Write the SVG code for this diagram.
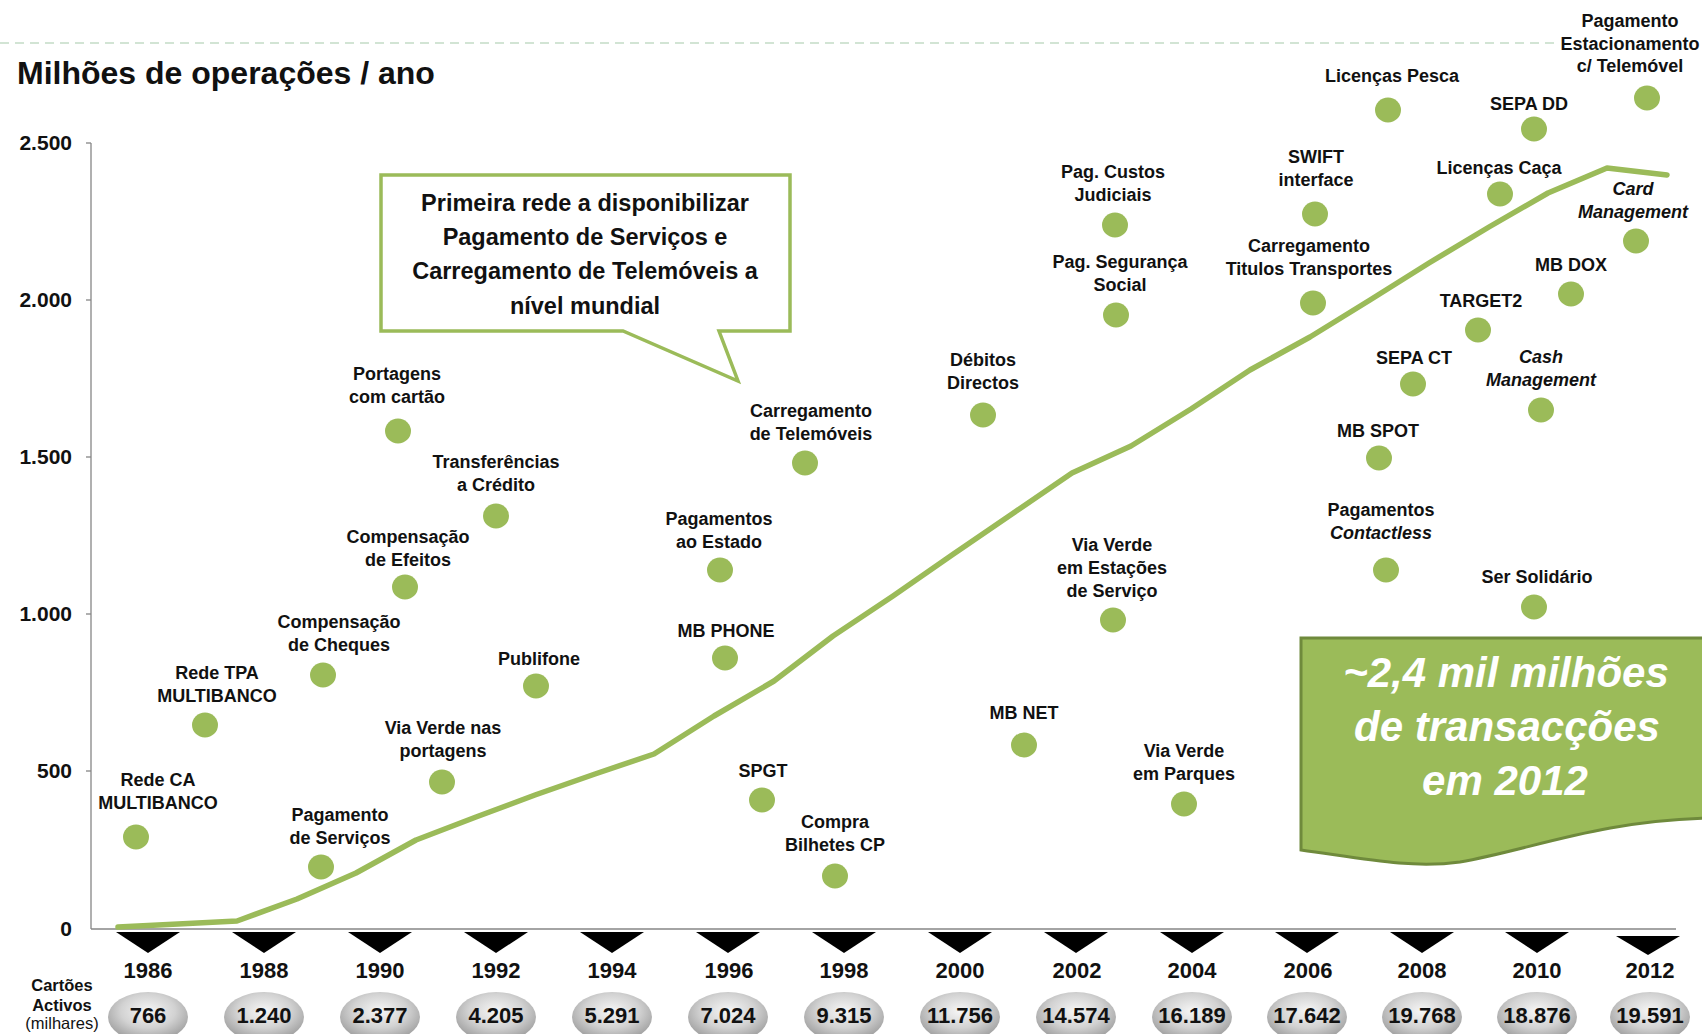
<svg xmlns="http://www.w3.org/2000/svg" width="1702" height="1034" viewBox="0 0 1702 1034">
<defs>
<radialGradient id="ball" cx="50%" cy="38%" r="62%">
<stop offset="0%" stop-color="#f6f6f6"/>
<stop offset="55%" stop-color="#d2d2d2"/>
<stop offset="100%" stop-color="#9c9c9c"/>
</radialGradient>
</defs>
<style>
text{font-family:"Liberation Sans",Arial,sans-serif;fill:#111}
.lb{font-size:18px;font-weight:bold;text-anchor:middle}
.it{font-style:italic}
.dot{fill:#9bbb59}
.ax{font-size:21px;font-weight:bold;text-anchor:end}
.yr{font-size:22px;font-weight:bold;text-anchor:middle}
.num{font-size:22px;font-weight:bold;text-anchor:middle}
.tri{fill:#000}
.ball{fill:url(#ball)}
.co{font-size:23.5px;font-weight:bold;text-anchor:middle}
.big{font-size:42px;font-weight:bold;font-style:italic;text-anchor:middle;fill:#fff}
</style>
<rect width="1702" height="1034" fill="#fff"/>
<line x1="0" y1="43" x2="1557" y2="43" stroke="#c4dcc6" stroke-width="1.6" stroke-dasharray="9,6"/>
<text x="17" y="84" style="font-size:32px;font-weight:bold">Milhões de operações / ano</text>

<g id="axes" stroke="#868686" stroke-width="1.3">
<line x1="91" y1="143" x2="91" y2="929"/>
<line x1="91" y1="929" x2="1676" y2="929"/>
<line x1="86" y1="143" x2="91" y2="143"/>
<line x1="86" y1="300" x2="91" y2="300"/>
<line x1="86" y1="457" x2="91" y2="457"/>
<line x1="86" y1="614" x2="91" y2="614"/>
<line x1="86" y1="771" x2="91" y2="771"/>
</g>
<g id="axis-labels">
<text class="ax" x="72" y="150">2.500</text>
<text class="ax" x="72" y="307">2.000</text>
<text class="ax" x="72" y="464">1.500</text>
<text class="ax" x="72" y="621">1.000</text>
<text class="ax" x="72" y="778">500</text>
<text class="ax" x="72" y="936">0</text>
</g>

<g id="connectors">
<polyline fill="none" stroke="#9bbb59" stroke-width="5.5" stroke-linejoin="round" stroke-linecap="round" points="118,927 178,924 237,921 297,899 356,873 416,840 476,817 535,795 595,774 654,754 714,716 774,681 833,636 893,596 952,555 1012,514 1072,473 1131,446 1191,409 1250,370 1310,337 1370,300 1429,263 1489,227 1548,193 1607,168 1667,175"/>
</g>

<g id="callout">
<path d="M381,175 H790 V331 H719 L738,381 L623,331 H381 Z" fill="#fff" stroke="#9bbb59" stroke-width="3.5" stroke-linejoin="miter"/>
<text class="co" x="585" y="211">Primeira rede a disponibilizar</text>
<text class="co" x="585" y="245">Pagamento de Serviços e</text>
<text class="co" x="585" y="279">Carregamento de Telemóveis a</text>
<text class="co" x="585" y="314">nível mundial</text>
</g>

<g id="summary">
<path d="M1301,638 H1712 V818 C1600,820 1530,850 1460,862 C1410,869 1360,858 1301,850 Z" fill="#9bbb59" stroke="#6f8a3c" stroke-width="3"/>
<text class="big" x="1506" y="687">~2,4 mil milhões</text>
<text class="big" x="1507" y="741">de transacções</text>
<text class="big" x="1505" y="795">em 2012</text>
</g>

<g id="n1"><text class="lb" x="158" y="786">Rede CA</text><text class="lb" x="158" y="809">MULTIBANCO</text><ellipse class="dot" cx="136" cy="837" rx="13" ry="12.5"/></g>
<g id="n2"><text class="lb" x="217" y="679">Rede TPA</text><text class="lb" x="217" y="702">MULTIBANCO</text><ellipse class="dot" cx="205" cy="725" rx="13" ry="12.5"/></g>
<g id="n3"><text class="lb" x="339" y="628">Compensação</text><text class="lb" x="339" y="651">de Cheques</text><ellipse class="dot" cx="323" cy="675" rx="13" ry="12.5"/></g>
<g id="n4"><text class="lb" x="340" y="821">Pagamento</text><text class="lb" x="340" y="844">de Serviços</text><ellipse class="dot" cx="321" cy="867" rx="13" ry="12.5"/></g>
<g id="n5"><text class="lb" x="408" y="543">Compensação</text><text class="lb" x="408" y="566">de Efeitos</text><ellipse class="dot" cx="405" cy="587" rx="13" ry="12.5"/></g>
<g id="n6"><text class="lb" x="397" y="380">Portagens</text><text class="lb" x="397" y="403">com cartão</text><ellipse class="dot" cx="398" cy="431" rx="13" ry="12.5"/></g>
<g id="n7"><text class="lb" x="496" y="468">Transferências</text><text class="lb" x="496" y="491">a Crédito</text><ellipse class="dot" cx="496" cy="516" rx="13" ry="12.5"/></g>
<g id="n8"><text class="lb" x="443" y="734">Via Verde nas</text><text class="lb" x="443" y="757">portagens</text><ellipse class="dot" cx="442" cy="782" rx="13" ry="12.5"/></g>
<g id="n9"><text class="lb" x="539" y="665">Publifone</text><ellipse class="dot" cx="536" cy="686" rx="13" ry="12.5"/></g>
<g id="n10"><text class="lb" x="719" y="525">Pagamentos</text><text class="lb" x="719" y="548">ao Estado</text><ellipse class="dot" cx="720" cy="570" rx="13" ry="12.5"/></g>
<g id="n11"><text class="lb" x="726" y="637">MB PHONE</text><ellipse class="dot" cx="725" cy="658" rx="13" ry="12.5"/></g>
<g id="n12"><text class="lb" x="811" y="417">Carregamento</text><text class="lb" x="811" y="440">de Telemóveis</text><ellipse class="dot" cx="805" cy="463" rx="13" ry="12.5"/></g>
<g id="n13"><text class="lb" x="763" y="777">SPGT</text><ellipse class="dot" cx="762" cy="800" rx="13" ry="12.5"/></g>
<g id="n14"><text class="lb" x="835" y="828">Compra</text><text class="lb" x="835" y="851">Bilhetes CP</text><ellipse class="dot" cx="835" cy="876" rx="13" ry="12.5"/></g>
<g id="n15"><text class="lb" x="983" y="366">Débitos</text><text class="lb" x="983" y="389">Directos</text><ellipse class="dot" cx="983" cy="415" rx="13" ry="12.5"/></g>
<g id="n16"><text class="lb" x="1024" y="719">MB NET</text><ellipse class="dot" cx="1024" cy="745" rx="13" ry="12.5"/></g>
<g id="n17"><text class="lb" x="1112" y="551">Via Verde</text><text class="lb" x="1112" y="574">em Estações</text><text class="lb" x="1112" y="597">de Serviço</text><ellipse class="dot" cx="1113" cy="620" rx="13" ry="12.5"/></g>
<g id="n18"><text class="lb" x="1184" y="757">Via Verde</text><text class="lb" x="1184" y="780">em Parques</text><ellipse class="dot" cx="1184" cy="804" rx="13" ry="12.5"/></g>
<g id="n19"><text class="lb" x="1113" y="178">Pag. Custos</text><text class="lb" x="1113" y="201">Judiciais</text><ellipse class="dot" cx="1115" cy="225" rx="13" ry="12.5"/></g>
<g id="n20"><text class="lb" x="1120" y="268">Pag. Segurança</text><text class="lb" x="1120" y="291">Social</text><ellipse class="dot" cx="1116" cy="315" rx="13" ry="12.5"/></g>
<g id="n21"><text class="lb" x="1316" y="163">SWIFT</text><text class="lb" x="1316" y="186">interface</text><ellipse class="dot" cx="1315" cy="214" rx="13" ry="12.5"/></g>
<g id="n22"><text class="lb" x="1309" y="252">Carregamento</text><text class="lb" x="1309" y="275">Titulos Transportes</text><ellipse class="dot" cx="1313" cy="303" rx="13" ry="12.5"/></g>
<g id="n23"><text class="lb" x="1392" y="82">Licenças Pesca</text><ellipse class="dot" cx="1388" cy="110" rx="13" ry="12.5"/></g>
<g id="n24"><text class="lb" x="1529" y="110">SEPA DD</text><ellipse class="dot" cx="1534" cy="129" rx="13" ry="12.5"/></g>
<g id="n25"><text class="lb" x="1630" y="27">Pagamento</text><text class="lb" x="1630" y="50">Estacionamento</text><text class="lb" x="1630" y="72">c/ Telemóvel</text><ellipse class="dot" cx="1647" cy="98" rx="13" ry="12.5"/></g>
<g id="n26"><text class="lb" x="1499" y="174">Licenças Caça</text><ellipse class="dot" cx="1500" cy="194" rx="13" ry="12.5"/></g>
<g id="n27"><text class="lb it" x="1633" y="195">Card</text><text class="lb it" x="1633" y="218">Management</text><ellipse class="dot" cx="1636" cy="241" rx="13" ry="12.5"/></g>
<g id="n28"><text class="lb" x="1571" y="271">MB DOX</text><ellipse class="dot" cx="1571" cy="294" rx="13" ry="12.5"/></g>
<g id="n29"><text class="lb" x="1481" y="307">TARGET2</text><ellipse class="dot" cx="1478" cy="330" rx="13" ry="12.5"/></g>
<g id="n30"><text class="lb" x="1414" y="364">SEPA CT</text><ellipse class="dot" cx="1413" cy="384" rx="13" ry="12.5"/></g>
<g id="n31"><text class="lb it" x="1541" y="363">Cash</text><text class="lb it" x="1541" y="386">Management</text><ellipse class="dot" cx="1541" cy="410" rx="13" ry="12.5"/></g>
<g id="n32"><text class="lb" x="1378" y="437">MB SPOT</text><ellipse class="dot" cx="1379" cy="458" rx="13" ry="12.5"/></g>
<g id="n33"><text class="lb" x="1381" y="516">Pagamentos</text><text class="lb it" x="1381" y="539">Contactless</text><ellipse class="dot" cx="1386" cy="570" rx="13" ry="12.5"/></g>
<g id="n34"><text class="lb" x="1537" y="583">Ser Solidário</text><ellipse class="dot" cx="1534" cy="607" rx="13" ry="12.5"/></g>

<g id="years">
<polygon class="tri" points="116,932 180,932 148,953"/>
<polygon class="tri" points="232,932 296,932 264,953"/>
<polygon class="tri" points="348,932 412,932 380,953"/>
<polygon class="tri" points="464,932 528,932 496,953"/>
<polygon class="tri" points="580,932 644,932 612,953"/>
<polygon class="tri" points="696,932 760,932 728,953"/>
<polygon class="tri" points="812,932 876,932 844,953"/>
<polygon class="tri" points="928,932 992,932 960,953"/>
<polygon class="tri" points="1044,932 1108,932 1076,953"/>
<polygon class="tri" points="1160,932 1224,932 1192,953"/>
<polygon class="tri" points="1275,932 1339,932 1307,953"/>
<polygon class="tri" points="1390,932 1454,932 1422,953"/>
<polygon class="tri" points="1505,932 1569,932 1537,953"/>
<polygon class="tri" points="1616,936 1680,936 1648,955"/>
<text class="yr" x="148" y="978">1986</text>
<text class="yr" x="264" y="978">1988</text>
<text class="yr" x="380" y="978">1990</text>
<text class="yr" x="496" y="978">1992</text>
<text class="yr" x="612" y="978">1994</text>
<text class="yr" x="729" y="978">1996</text>
<text class="yr" x="844" y="978">1998</text>
<text class="yr" x="960" y="978">2000</text>
<text class="yr" x="1077" y="978">2002</text>
<text class="yr" x="1192" y="978">2004</text>
<text class="yr" x="1308" y="978">2006</text>
<text class="yr" x="1422" y="978">2008</text>
<text class="yr" x="1537" y="978">2010</text>
<text class="yr" x="1650" y="978">2012</text>
</g>

<g id="cards">
<text x="62" y="991" style="font-size:16.5px;font-weight:bold;text-anchor:middle">Cartões</text>
<text x="62" y="1011" style="font-size:16.5px;font-weight:bold;text-anchor:middle">Activos</text>
<text x="62" y="1029" style="font-size:16.5px;text-anchor:middle">(milhares)</text>
<ellipse class="ball" cx="148" cy="1017" rx="40" ry="25"/>
<ellipse class="ball" cx="264" cy="1017" rx="40" ry="25"/>
<ellipse class="ball" cx="380" cy="1017" rx="40" ry="25"/>
<ellipse class="ball" cx="496" cy="1017" rx="40" ry="25"/>
<ellipse class="ball" cx="612" cy="1017" rx="40" ry="25"/>
<ellipse class="ball" cx="728" cy="1017" rx="40" ry="25"/>
<ellipse class="ball" cx="844" cy="1017" rx="40" ry="25"/>
<ellipse class="ball" cx="960" cy="1017" rx="40" ry="25"/>
<ellipse class="ball" cx="1076" cy="1017" rx="40" ry="25"/>
<ellipse class="ball" cx="1192" cy="1017" rx="40" ry="25"/>
<ellipse class="ball" cx="1307" cy="1017" rx="40" ry="25"/>
<ellipse class="ball" cx="1422" cy="1017" rx="40" ry="25"/>
<ellipse class="ball" cx="1537" cy="1017" rx="40" ry="25"/>
<ellipse class="ball" cx="1650" cy="1017" rx="40" ry="25"/>
<text class="num" x="148" y="1023">766</text>
<text class="num" x="264" y="1023">1.240</text>
<text class="num" x="380" y="1023">2.377</text>
<text class="num" x="496" y="1023">4.205</text>
<text class="num" x="612" y="1023">5.291</text>
<text class="num" x="728" y="1023">7.024</text>
<text class="num" x="844" y="1023">9.315</text>
<text class="num" x="960" y="1023">11.756</text>
<text class="num" x="1076" y="1023">14.574</text>
<text class="num" x="1192" y="1023">16.189</text>
<text class="num" x="1307" y="1023">17.642</text>
<text class="num" x="1422" y="1023">19.768</text>
<text class="num" x="1537" y="1023">18.876</text>
<text class="num" x="1650" y="1023">19.591</text>
</g>
</svg>
